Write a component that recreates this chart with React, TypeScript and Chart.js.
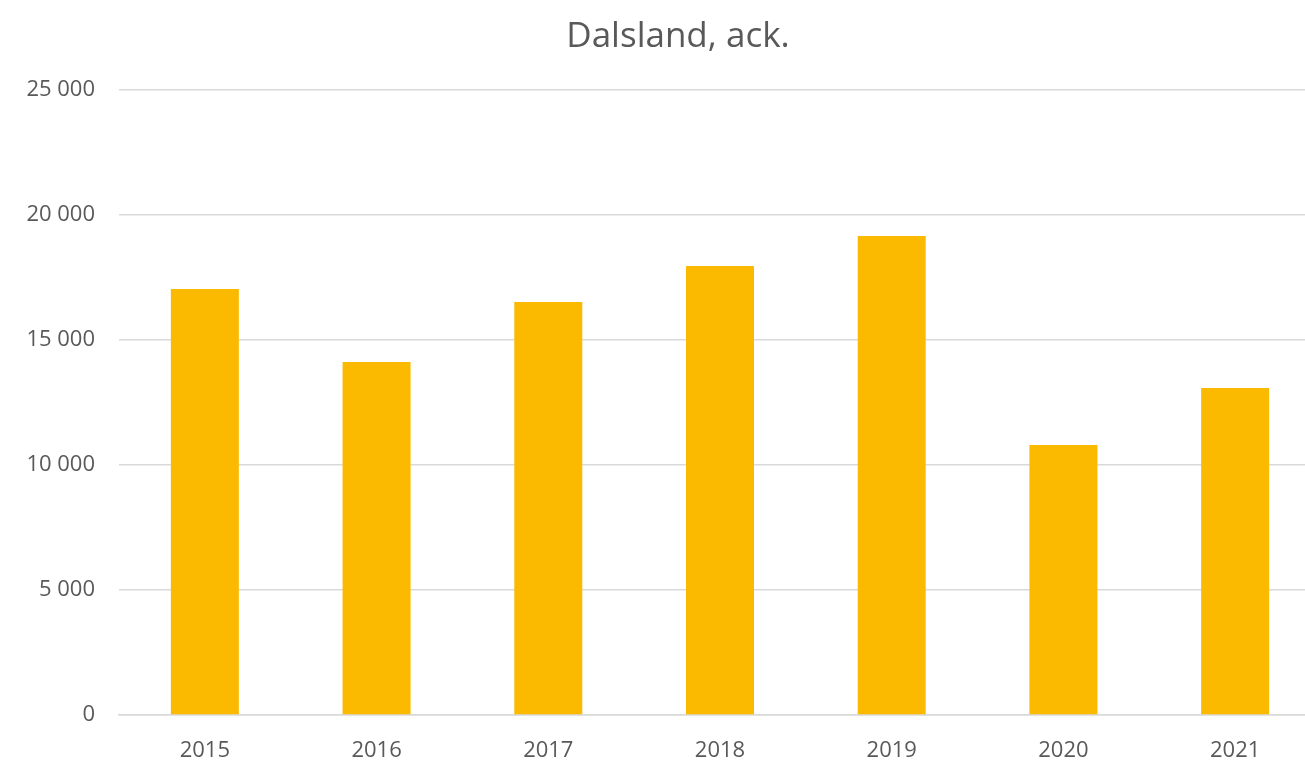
import React, { useEffect, useRef } from "react";
import { Chart, registerables } from "chart.js";

Chart.register(...registerables);

const categories = ["2015", "2016", "2017", "2018", "2019", "2020", "2021"];
const values = [17040, 14120, 16520, 17960, 19160, 10800, 13080];
const yTicks = [0, 5000, 10000, 15000, 20000, 25000];
const chartTitle = "Dalsland, ack.";

const FONT = "'Open Sans', 'Noto Sans', sans-serif";
const TEXT = "#595959";

function fmt(v: number): string {
  return String(v).replace(/\B(?=(\d{3})+(?!\d))/g, " ");
}

const titlePlugin = {
  id: "customTitle",
  afterDraw(chart: any) {
    const c = chart.ctx;
    c.save();
    c.font = `35px ${FONT}`;
    c.fillStyle = TEXT;
    c.textAlign = "center";
    c.textBaseline = "alphabetic";
    c.fillText(chartTitle, 678, 47);
    c.restore();
  },
};

export default function App() {
  const ref = useRef<HTMLCanvasElement>(null);
  useEffect(() => {
    document.body.style.margin = "0";
    const ctx = ref.current!;
    const chart = new Chart(ctx, {
      type: "bar",
      data: {
        labels: categories,
        datasets: [
          {
            data: values,
            backgroundColor: "#FBBA00",
            borderWidth: 0,
            categoryPercentage: 1,
            barPercentage: 0.396,
          },
        ],
      },
      options: {
        responsive: false,
        animation: false,
        layout: { padding: { left: 0, right: 0, top: 90, bottom: 0 } },
        plugins: {
          legend: { display: false },
          tooltip: { enabled: false },
          title: { display: false },
        },
        scales: {
          x: {
            grid: { display: false, drawTicks: false },
            border: { display: true, color: "#D9D9D9", width: 1.5 },
            ticks: {
              color: TEXT,
              font: { family: FONT, size: 22 },
              padding: 23,
              maxRotation: 0,
            },
            afterFit: (s: any) => {
              s.height = 46;
            },
          },
          y: {
            min: 0,
            max: 25000,
            afterBuildTicks: (s: any) => {
              s.ticks = yTicks.map((v) => ({ value: v }));
            },
            grid: { color: "#D9D9D9", lineWidth: 1.5, drawTicks: false },
            border: { display: false },
            ticks: {
              color: TEXT,
              font: { family: FONT, size: 22 },
              padding: 24,
              callback: (v: any) => fmt(Number(v)),
            },
            afterFit: (s: any) => {
              s.width = 119;
            },
          },
        },
      },
      plugins: [titlePlugin],
    });
    return () => chart.destroy();
  }, []);
  return (
    <div style={{ width: 1305, height: 761, background: "#fff", overflow: "hidden" }}>
      <canvas ref={ref} width={1321} height={761} style={{ display: "block" }} />
    </div>
  );
}
